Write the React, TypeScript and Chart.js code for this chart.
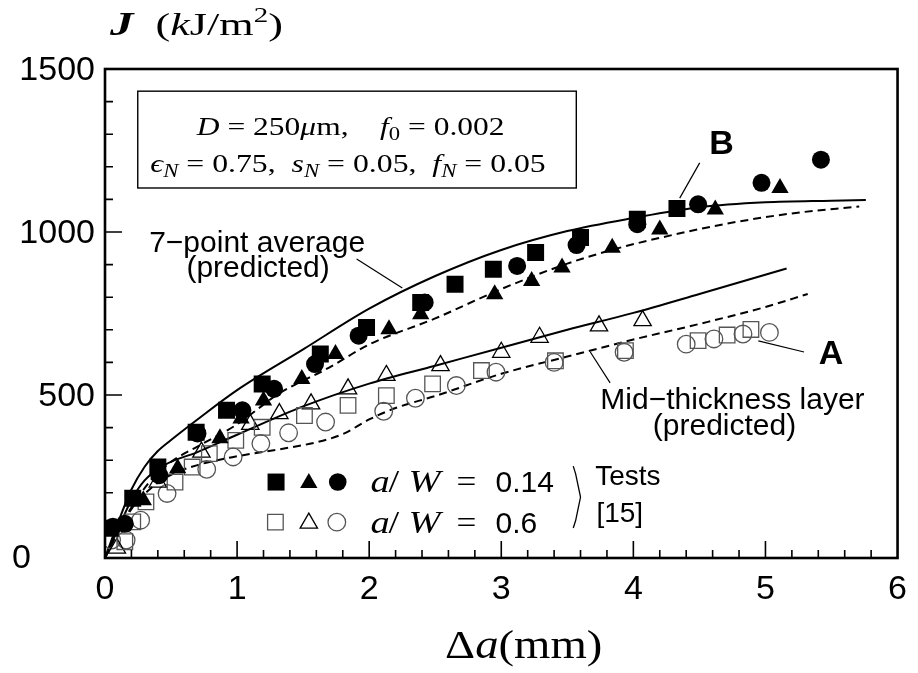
import React, { useEffect, useRef } from 'react';
import { Chart, registerables } from 'chart.js';

Chart.register(...registerables);

// ---------- data (Δa in mm, J in kJ/m²) ----------
const X_TICKS = [0, 1, 2, 3, 4, 5, 6];
const Y_TICKS = [0, 500, 1000, 1500];

// a/W = 0.14 (filled symbols)
const FILLED_SQUARES: [number, number][] = [
  [0.04, 91], [0.21, 183], [0.4, 279], [0.69, 386], [0.92, 453], [1.19, 534], [1.63, 626],
  [1.98, 707], [2.39, 784], [2.65, 840], [2.94, 886], [3.26, 937], [3.6, 983], [4.03, 1039], [4.33, 1072],
];
const FILLED_TRIANGLES: [number, number][] = [
  [0.29, 177], [0.55, 275], [0.87, 367], [1.03, 428], [1.2, 483], [1.49, 549], [1.745, 626],
  [2.15, 702], [2.39, 748], [2.95, 809], [3.23, 850], [3.46, 891], [3.84, 952], [4.2, 1008],
  [4.62, 1069], [5.11, 1135],
];
const FILLED_CIRCLES: [number, number][] = [
  [0.06, 96], [0.15, 105], [0.41, 254], [0.7, 382], [1.04, 453], [1.28, 519], [1.59, 595],
  [1.92, 682], [2.42, 784], [3.12, 896], [3.57, 960], [4.03, 1024], [4.49, 1085], [4.97, 1151], [5.42, 1222],
];

// a/W = 0.6 (open symbols)
const OPEN_SQUARES: [number, number][] = [
  [0.15, 50], [0.21, 111], [0.31, 172], [0.53, 233], [0.66, 279], [0.79, 320], [0.99, 361],
  [1.19, 401], [1.51, 437], [1.84, 468], [2.13, 498], [2.48, 534], [2.85, 575], [3.41, 605],
  [3.94, 636], [4.49, 667], [4.71, 684], [4.89, 701],
];
const OPEN_TRIANGLES: [number, number][] = [
  [0.09, 30], [0.4, 233], [0.73, 325], [1.1, 410], [1.32, 443], [1.56, 473], [1.84, 519],
  [2.13, 560], [2.54, 590], [3.0, 631], [3.29, 677], [3.74, 712], [4.07, 728],
];
const OPEN_CIRCLES: [number, number][] = [
  [0.05, 55], [0.16, 55], [0.27, 116], [0.47, 198], [0.77, 272], [0.97, 310], [1.18, 351],
  [1.39, 384], [1.67, 417], [2.11, 450], [2.35, 490], [2.66, 529], [2.96, 570], [3.4, 600],
  [3.93, 631], [4.4, 656], [4.61, 672], [4.83, 687], [5.03, 692],
];

// predicted curves
const B_AVERAGE: [number, number][] = [
  [0, 0], [0.1, 110], [0.2, 210], [0.3, 280], [0.4, 328], [0.5, 362], [0.7, 425], [1.0, 515],
  [1.5, 640], [2.0, 765], [2.5, 865], [3.0, 945], [3.5, 1003], [4.0, 1043], [4.5, 1076],
  [5.0, 1091], [5.5, 1096], [5.76, 1098],
];
const B_MID: [number, number][] = [
  [0, 0], [0.1, 85], [0.2, 155], [0.35, 240], [0.5, 295], [0.7, 342], [1.0, 410], [1.15, 455],
  [1.3, 500], [1.7, 585], [2.0, 655], [2.5, 735], [3.0, 825], [3.5, 903], [3.9, 952], [4.2, 982],
  [4.7, 1025], [5.2, 1057], [5.71, 1078],
];
const A_AVERAGE: [number, number][] = [
  [0, 0], [0.1, 90], [0.2, 178], [0.3, 238], [0.45, 285], [0.7, 325], [1.0, 378], [1.5, 465],
  [2.0, 535], [2.5, 590], [3.0, 645], [3.5, 700], [4.0, 752], [4.5, 810], [5.16, 888],
];
const A_MID: [number, number][] = [
  [0, 0], [0.1, 80], [0.2, 150], [0.35, 215], [0.5, 255], [0.7, 285], [1.0, 312], [1.3, 332],
  [1.6, 355], [1.8, 380], [2.0, 425], [2.2, 460], [2.5, 497], [3.0, 565], [3.5, 618], [4.0, 670],
  [4.5, 718], [5.0, 770], [5.32, 810],
];

// ---------- styling ----------
const SERIF = "'Liberation Serif', 'Times New Roman', 'DejaVu Serif', serif";
const SANS = "'Liberation Sans', Arial, Helvetica, sans-serif";
const GRAY = '#555';

type Run = { t: string; f: string; dy?: number };

function drawRuns(
  ctx: CanvasRenderingContext2D, runs: Run[], x: number, y: number,
  align: 'left' | 'center', stretch = 1,
) {
  let total = 0;
  for (const r of runs) {
    ctx.font = r.f;
    total += ctx.measureText(r.t).width;
  }
  const x0 = align === 'center' ? x - (total * stretch) / 2 : x;
  ctx.save();
  ctx.translate(x0, y);
  ctx.scale(stretch, 1);
  ctx.textAlign = 'left';
  ctx.textBaseline = 'alphabetic';
  let cx = 0;
  for (const r of runs) {
    ctx.font = r.f;
    ctx.fillText(r.t, cx, r.dy || 0);
    cx += ctx.measureText(r.t).width;
  }
  ctx.restore();
}

function marker(ctx: CanvasRenderingContext2D, kind: string, x: number, y: number, filled: boolean, color: string) {
  ctx.beginPath();
  if (kind === 'rect') {
    const s = filled ? 8.5 : 7.8;
    ctx.rect(x - s, y - s, 2 * s, 2 * s);
  } else if (kind === 'triangle') {
    const r = 10;
    ctx.moveTo(x, y - r);
    ctx.lineTo(x + r * 0.866, y + r / 2);
    ctx.lineTo(x - r * 0.866, y + r / 2);
    ctx.closePath();
  } else {
    ctx.arc(x, y, 8.8, 0, Math.PI * 2);
  }
  if (filled) {
    ctx.fillStyle = color;
    ctx.fill();
  } else {
    ctx.lineWidth = 1.3;
    ctx.strokeStyle = color;
    ctx.stroke();
  }
}

const decorPlugin = {
  id: 'decor',
  afterDatasetsDraw(chart: any) {
    const { ctx, chartArea: a, scales } = chart;
    const sx = scales.x;
    const sy = scales.y;
    const px = (v: number) => sx.getPixelForValue(v);
    const py = (v: number) => sy.getPixelForValue(v);
    ctx.save();

    // frame
    ctx.strokeStyle = '#000';
    ctx.lineWidth = 2.6;
    ctx.strokeRect(a.left, a.top, a.right - a.left, a.bottom - a.top);

    // inward ticks (major + minor)
    ctx.lineWidth = 1.6;
    ctx.beginPath();
    for (let i = 1; i < 30; i++) {
      const major = i % 5 === 0;
      const xx = px(i * 0.2);
      ctx.moveTo(xx, a.bottom);
      ctx.lineTo(xx, a.bottom - (major ? 17 : 8));
    }
    for (let i = 1; i < 15; i++) {
      const major = i % 5 === 0;
      const yy = py(i * 100);
      ctx.moveTo(a.left, yy);
      ctx.lineTo(a.left + (major ? 17 : 8), yy);
    }
    ctx.stroke();

    ctx.fillStyle = '#000';

    // y tick labels
    ctx.font = `34px ${SANS}`;
    ctx.textBaseline = 'middle';
    for (const v of Y_TICKS) {
      if (v === 0) {
        ctx.textAlign = 'left';
        ctx.fillText(String(v), 12, py(v) + 1);
      } else {
        ctx.textAlign = 'right';
        ctx.fillText(String(v), a.left - 10, py(v) + 2);
      }
    }

    // axis titles
    drawRuns(ctx, [
      { t: 'J', f: `bold italic 34px ${SERIF}` },
      { t: '  (', f: `32px ${SERIF}` },
      { t: 'k', f: `italic 32px ${SERIF}` },
      { t: 'J/m', f: `32px ${SERIF}` },
      { t: '2', f: `21px ${SERIF}`, dy: -13 },
      { t: ')', f: `32px ${SERIF}` },
    ], a.left + 5, a.top - 34, 'left', 1.38);

    drawRuns(ctx, [
      { t: 'Δ', f: `41px ${SERIF}` },
      { t: 'a', f: `italic 41px ${SERIF}` },
      { t: '(mm)', f: `41px ${SERIF}` },
    ], px(3.17), a.bottom + 100, 'center', 1.14);

    // parameter box
    ctx.lineWidth = 1.4;
    ctx.strokeStyle = '#000';
    const bx1 = px(0.248), bx2 = px(3.568), by1 = py(1432), by2 = py(1135);
    ctx.strokeRect(bx1, by1, bx2 - bx1, by2 - by1);
    const N = 25, S = 18;
    drawRuns(ctx, [
      { t: 'D', f: `italic ${N}px ${SERIF}` },
      { t: ' = 250', f: `${N}px ${SERIF}` },
      { t: 'μ', f: `italic ${N}px ${SERIF}` },
      { t: 'm,    ', f: `${N}px ${SERIF}` },
      { t: 'f', f: `italic ${N}px ${SERIF}` },
      { t: '0', f: `${S}px ${SERIF}`, dy: 5 },
      { t: ' = 0.002', f: `${N}px ${SERIF}` },
    ], px(1.86), py(1297), 'center', 1.26);
    drawRuns(ctx, [
      { t: 'ϵ', f: `italic ${N}px ${SERIF}` },
      { t: 'N', f: `italic ${S}px ${SERIF}`, dy: 5 },
      { t: ' = 0.75,  ', f: `${N}px ${SERIF}` },
      { t: 's', f: `italic ${N}px ${SERIF}` },
      { t: 'N', f: `italic ${S}px ${SERIF}`, dy: 5 },
      { t: ' = 0.05,  ', f: `${N}px ${SERIF}` },
      { t: 'f', f: `italic ${N}px ${SERIF}` },
      { t: 'N', f: `italic ${S}px ${SERIF}`, dy: 5 },
      { t: ' = 0.05', f: `${N}px ${SERIF}` },
    ], px(1.84), py(1184), 'center', 1.27);

    // annotations
    ctx.font = `30px ${SANS}`;
    ctx.textAlign = 'center';
    ctx.textBaseline = 'middle';
    ctx.fillText('7\u2212point average', px(1.152), py(963));
    ctx.fillText('(predicted)', px(1.159), py(886));
    ctx.fillText('Mid\u2212thickness layer', px(4.75), py(482));
    ctx.fillText('(predicted)', px(4.69), py(402));

    ctx.font = `bold 34px ${SANS}`;
    ctx.fillText('B', px(4.668), py(1267));
    ctx.fillText('A', px(5.496), py(623));

    ctx.font = `28px ${SANS}`;
    ctx.textAlign = 'left';
    ctx.fillText('Tests', px(3.711), py(248));
    ctx.fillText('[15]', px(3.72), py(133));

    // leader lines
    ctx.lineWidth = 1.2;
    ctx.beginPath();
    ctx.moveTo(px(1.905), py(917)); ctx.lineTo(px(2.251), py(828));
    ctx.moveTo(px(4.502), py(1212)); ctx.lineTo(px(4.351), py(1104));
    ctx.moveTo(px(4.946), py(666)); ctx.lineTo(px(5.292), py(632));
    ctx.moveTo(px(3.674), py(632)); ctx.lineTo(px(3.824), py(537));
    ctx.stroke();

    // brace
    ctx.lineWidth = 1.3;
    ctx.beginPath();
    ctx.moveTo(px(3.545), py(282));
    ctx.lineTo(px(3.563), py(258));
    ctx.lineTo(px(3.6), py(187));
    ctx.lineTo(px(3.563), py(115));
    ctx.lineTo(px(3.545), py(92));
    ctx.stroke();

    // legend symbols
    const r1 = py(233), r2 = py(110);
    marker(ctx, 'rect', px(1.295), r1, true, '#000');
    marker(ctx, 'triangle', px(1.543), r1 + 1, true, '#000');
    marker(ctx, 'circle', px(1.762), r1, true, '#000');
    marker(ctx, 'rect', px(1.29), r2, false, GRAY);
    marker(ctx, 'triangle', px(1.543), r2 + 1, false, '#000');
    marker(ctx, 'circle', px(1.755), r2, false, GRAY);

    const legendText = (x0: number, base: number, val: string) => {
      ctx.fillStyle = '#000';
      drawRuns(ctx, [{ t: 'a', f: `italic 32px ${SERIF}` }], x0, base, 'left', 1.2);
      drawRuns(ctx, [{ t: '/', f: `32px ${SERIF}` }], x0 + 18, base, 'left', 1.2);
      drawRuns(ctx, [{ t: 'W', f: `italic 32px ${SERIF}` }], x0 + 38, base, 'left', 1.2);
      drawRuns(ctx, [{ t: '=', f: `32px ${SERIF}` }], x0 + 86, base, 'left', 1.1);
      drawRuns(ctx, [{ t: val, f: `30px ${SANS}` }], x0 + 125, base, 'left');
    };
    legendText(px(2.01), r1 + 10, '0.14');
    legendText(px(2.01), r2 + 11, '0.6');

    ctx.restore();
  },
};

function pts(arr: [number, number][]) {
  return arr.map(([x, y]) => ({ x, y }));
}

export default function App() {
  const ref = useRef<HTMLCanvasElement | null>(null);

  useEffect(() => {
    if (!ref.current) return;
    const markerDs = (label: string, data: [number, number][], style: string, filled: boolean, color: string, radius: number) => ({
      label,
      data: pts(data),
      showLine: false,
      pointStyle: style,
      pointRadius: radius,
      pointHoverRadius: radius,
      pointBackgroundColor: filled ? color : 'rgba(0,0,0,0)',
      pointBorderColor: color,
      pointBorderWidth: filled ? 0 : 1.3,
    });
    const lineDs = (label: string, data: [number, number][], dashed: boolean) => ({
      label,
      data: pts(data),
      showLine: true,
      borderColor: '#000',
      borderWidth: 2,
      borderDash: dashed ? [8, 5] : [],
      pointRadius: 0,
      pointHoverRadius: 0,
      fill: false,
      cubicInterpolationMode: 'monotone',
    });

    const chart = new Chart(ref.current, {
      type: 'scatter',
      data: {
        datasets: [
          markerDs('a/W=0.14 squares', FILLED_SQUARES, 'rect', true, '#000', 12),
          markerDs('a/W=0.14 triangles', FILLED_TRIANGLES, 'triangle', true, '#000', 10),
          markerDs('a/W=0.14 circles', FILLED_CIRCLES, 'circle', true, '#000', 9),
          markerDs('a/W=0.6 squares', OPEN_SQUARES, 'rect', false, GRAY, 11),
          markerDs('a/W=0.6 triangles', OPEN_TRIANGLES, 'triangle', false, '#000', 10),
          markerDs('a/W=0.6 circles', OPEN_CIRCLES, 'circle', false, GRAY, 8.8),
          lineDs('B 7-point average', B_AVERAGE, false),
          lineDs('B mid-thickness', B_MID, true),
          lineDs('A 7-point average', A_AVERAGE, false),
          lineDs('A mid-thickness', A_MID, true),
        ] as any,
      },
      options: {
        responsive: false,
        animation: false,
        events: [],
        layout: { padding: { top: 69, right: 16, left: 0, bottom: 0 } },
        plugins: {
          legend: { display: false },
          tooltip: { enabled: false },
          title: { display: false },
        },
        scales: {
          x: {
            type: 'linear',
            min: 0,
            max: 6,
            afterFit: (s: any) => { s.height = 115; },
            afterBuildTicks: (s: any) => { s.ticks = X_TICKS.map((v) => ({ value: v })); },
            grid: { display: false, drawTicks: false },
            border: { display: false },
            ticks: {
              padding: 11,
              color: '#000',
              font: { family: SANS, size: 34 },
              maxRotation: 0,
              callback: (v: any) => String(v),
            },
          },
          y: {
            type: 'linear',
            min: 0,
            max: 1500,
            afterFit: (s: any) => { s.width = 105; },
            afterBuildTicks: (s: any) => { s.ticks = Y_TICKS.map((v) => ({ value: v })); },
            grid: { display: false, drawTicks: false },
            border: { display: false },
            ticks: { display: false },
          },
        },
      } as any,
      plugins: [decorPlugin],
    });
    return () => chart.destroy();
  }, []);

  return (
    <div style={{ position: 'absolute', left: 0, top: 0, width: 918, height: 673, background: '#fff' }}>
      <canvas ref={ref} width={918} height={673} style={{ width: 918, height: 673, display: 'block' }} />
    </div>
  );
}
